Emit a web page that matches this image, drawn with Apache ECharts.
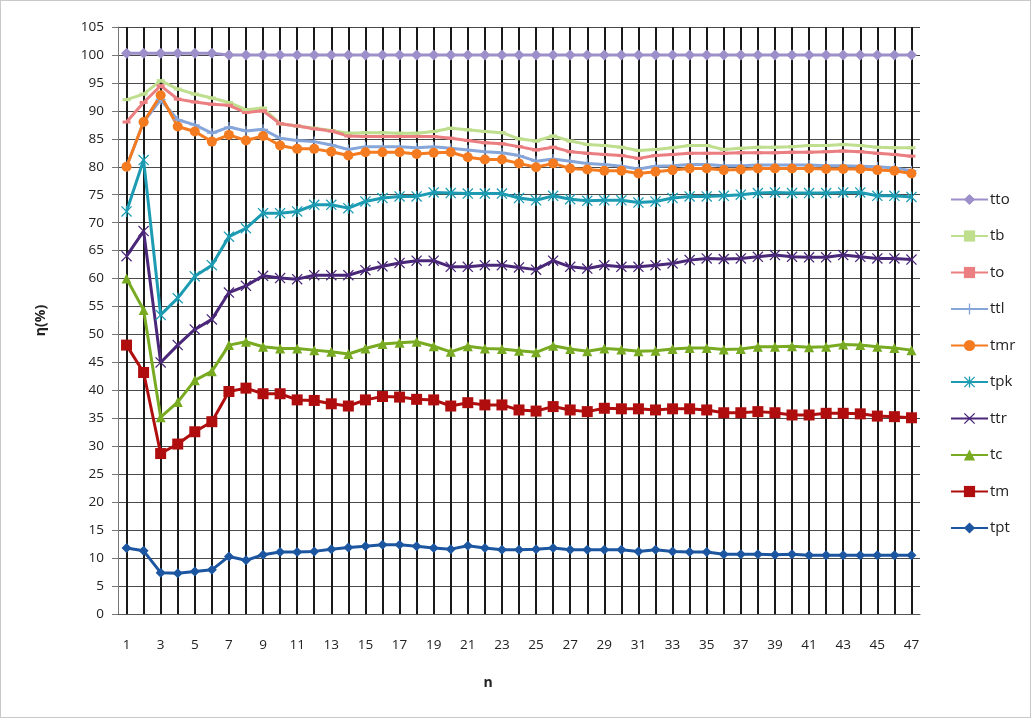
<!DOCTYPE html>
<html>
<head>
<meta charset="utf-8">
<script src="https://cdn.jsdelivr.net/npm/echarts@6/dist/echarts.min.js"></script>
<style>
html,body{margin:0;padding:0;background:#fff;}
#frame{width:1029px;height:716px;border:1px solid #c9c9c9;}
#chart{width:1029px;height:716px;}
</style>
</head>
<body>
<div id="frame"><div id="chart"></div></div>
<script>
var categories = [];
for (var i = 1; i <= 47; i++) categories.push(String(i));

var tto = [100.3,100.3,100.3,100.3,100.3,100.3,100,100,100,100,100,100,100,100,100,100,100,100,100,100,100,100,100,100,100,100,100,100,100,100,100,100,100,100,100,100,100,100,100,100,100,100,100,100,100,100,100];
var tb  = [92.0,93.0,95.4,93.9,93.0,92.3,91.5,90.2,90.5,87.7,87.3,86.9,86.5,86.0,86.1,86.1,86.0,86.0,86.3,86.9,86.6,86.3,86.1,85.0,84.6,85.5,84.6,84.0,83.8,83.5,82.9,83.1,83.4,83.8,83.8,83.1,83.3,83.5,83.5,83.6,83.8,83.8,84.0,83.8,83.5,83.4,83.4];
var to  = [88.0,91.5,94.5,92.1,91.6,91.2,91.0,89.7,90.0,87.7,87.3,86.8,86.4,85.5,85.4,85.4,85.4,85.4,85.4,85.1,84.7,84.3,84.1,83.6,83.0,83.5,82.7,82.4,82.2,82.0,81.5,82.0,82.2,82.4,82.4,82.4,82.5,82.5,82.5,82.6,82.6,82.7,82.8,82.7,82.4,82.2,81.9];
var ttl = [80.0,88.0,92.0,88.4,87.5,86.0,87.1,86.4,86.7,85.1,84.7,84.5,83.9,83.1,83.6,83.6,83.6,83.4,83.6,83.3,83.0,82.7,82.5,82.0,81.0,81.4,81.0,80.6,80.4,80.1,79.6,80.1,80.2,80.4,80.4,80.2,80.2,80.3,80.3,80.3,80.3,80.2,80.2,80.1,80.0,79.8,79.3];
var tmr = [80.0,88.0,92.8,87.2,86.3,84.5,85.7,84.7,85.5,83.8,83.2,83.2,82.7,82.0,82.6,82.6,82.6,82.3,82.5,82.6,81.7,81.3,81.3,80.6,79.9,80.6,79.7,79.5,79.3,79.3,78.8,79.1,79.4,79.7,79.7,79.4,79.5,79.7,79.7,79.7,79.7,79.6,79.6,79.6,79.4,79.3,78.8];
var tpk = [72.0,81.2,53.5,56.5,60.4,62.4,67.5,69.0,71.7,71.7,72.0,73.2,73.2,72.6,73.8,74.4,74.7,74.7,75.4,75.3,75.2,75.2,75.2,74.4,74.0,74.8,74.2,73.9,74.0,74.0,73.6,73.8,74.4,74.7,74.7,74.8,75.0,75.3,75.4,75.3,75.3,75.3,75.4,75.4,74.8,74.8,74.6];
var ttr = [64.0,68.5,45.0,48.1,50.9,52.7,57.5,58.7,60.5,60.1,59.9,60.6,60.6,60.6,61.5,62.2,62.8,63.2,63.2,62.1,62.1,62.4,62.4,62.0,61.6,63.2,62.1,61.8,62.4,62.1,62.1,62.4,62.7,63.3,63.6,63.5,63.6,63.9,64.2,63.9,63.8,63.8,64.2,63.9,63.6,63.6,63.4];
var tc  = [60.0,54.4,35.2,37.9,41.8,43.4,48.1,48.7,47.8,47.5,47.5,47.2,46.9,46.5,47.5,48.3,48.5,48.7,47.9,46.9,47.9,47.5,47.4,47.1,46.8,48.0,47.4,47.0,47.5,47.3,47.0,47.1,47.4,47.6,47.6,47.3,47.4,47.8,47.8,47.9,47.7,47.8,48.2,48.1,47.8,47.6,47.2];
var tm  = [48.1,43.2,28.7,30.4,32.6,34.4,39.8,40.4,39.4,39.4,38.3,38.2,37.6,37.2,38.3,38.9,38.8,38.4,38.3,37.2,37.8,37.4,37.4,36.5,36.3,37.1,36.5,36.2,36.8,36.7,36.7,36.5,36.7,36.7,36.5,36.0,36.0,36.2,36.0,35.6,35.6,35.9,35.9,35.8,35.4,35.3,35.1];
var tpt = [11.8,11.3,7.4,7.3,7.6,7.9,10.3,9.6,10.6,11.1,11.1,11.2,11.6,11.9,12.1,12.4,12.4,12.1,11.8,11.6,12.2,11.8,11.5,11.5,11.6,11.8,11.5,11.5,11.5,11.5,11.2,11.5,11.2,11.1,11.1,10.7,10.7,10.7,10.6,10.7,10.5,10.5,10.5,10.5,10.5,10.5,10.5];

var yTicks = {min: 0, max: 105, step: 5};

var PLUS = 'path://M4.4,0H5.6V4.4H10V5.6H5.6V10H4.4V5.6H0V4.4H4.4Z';
var XMARK = 'path://M0,0.8L0.8,0L5,4.2L9.2,0L10,0.8L5.8,5L10,9.2L9.2,10L5,5.8L0.8,10L0,9.2L4.2,5Z';
var STAR = 'path://M0,0.8L0.8,0L4.4,3.6V0H5.6V3.6L9.2,0L10,0.8L5.8,5L10,9.2L9.2,10L5.6,6.4V10H4.4V6.4L0.8,10L0,9.2L4.2,5Z';
var DASH = 'path://M0,0H10V3H0Z';

function mk(name, data, color, symbol, size) {
  return {
    name: name, type: 'line', data: data,
    symbol: symbol, symbolSize: size, showSymbol: true,
    lineStyle: {color: color, width: 3},
    itemStyle: {color: color},
    emphasis: {disabled: true},
    animation: false
  };
}

var series = [
  mk('tto', tto, '#9D8FC9', 'diamond', 11),
  mk('tb', tb, '#BFDE8E', DASH, [8, 3]),
  mk('to', to, '#EB7E80', DASH, [8, 3]),
  mk('ttl', ttl, '#86A6DA', PLUS, 10),
  mk('tmr', tmr, '#F47B20', 'circle', 10),
  mk('tpk', tpk, '#1C9BB2', STAR, 11),
  mk('ttr', ttr, '#4A2779', XMARK, 11),
  mk('tc', tc, '#78AB22', 'triangle', 10),
  mk('tm', tm, '#B00E0E', 'rect', 11),
  mk('tpt', tpt, '#1D56A0', 'diamond', 10)
];

var font = 'Open Sans, Liberation Sans, sans-serif';
var chart = echarts.init(document.getElementById('chart'));
chart.setOption({
  backgroundColor: '#ffffff',
  animation: false,
  grid: {left: 117, right: 110, top: 26, bottom: 103, containLabel: false},
  legend: {
    orient: 'vertical', left: 944, top: 186,
    itemWidth: 37, itemHeight: 14, itemGap: 21.5,
    textStyle: {fontFamily: font, fontSize: 15, color: '#222', padding: [0, 0, 0, -3]},
    data: ['tto','tb','to','ttl','tmr','tpk','ttr','tc','tm','tpt']
  },
  xAxis: {
    type: 'category', data: categories, boundaryGap: true,
    name: 'n', nameLocation: 'middle', nameGap: 62,
    nameTextStyle: {fontFamily: font, fontSize: 14, fontWeight: 'bold', color: '#222', padding: [0, 62, 0, 0]},
    axisLine: {show: true, lineStyle: {color: '#555', width: 1}},
    axisTick: {show: false},
    axisLabel: {interval: 1, margin: 24, fontFamily: font, fontSize: 13.5, color: '#222'},
    splitLine: {show: true, interval: 0, alignWithLabel: true, lineStyle: {color: '#1a1a1a', width: 2}}
  },
  yAxis: {
    type: 'value', min: yTicks.min, max: yTicks.max, interval: yTicks.step,
    name: 'η(%)', nameLocation: 'middle', nameGap: 70,
    nameTextStyle: {fontFamily: font, fontSize: 14, fontWeight: 'bold', color: '#222'},
    axisLine: {show: true, lineStyle: {color: '#777', width: 1}},
    axisTick: {show: true, inside: false, length: 6, lineStyle: {color: '#777'}},
    axisLabel: {margin: 14, fontFamily: font, fontSize: 13.5, color: '#222'},
    splitLine: {show: true, lineStyle: {color: '#4a4a4a', width: 1}}
  },
  series: series
});
</script>
</body>
</html>
